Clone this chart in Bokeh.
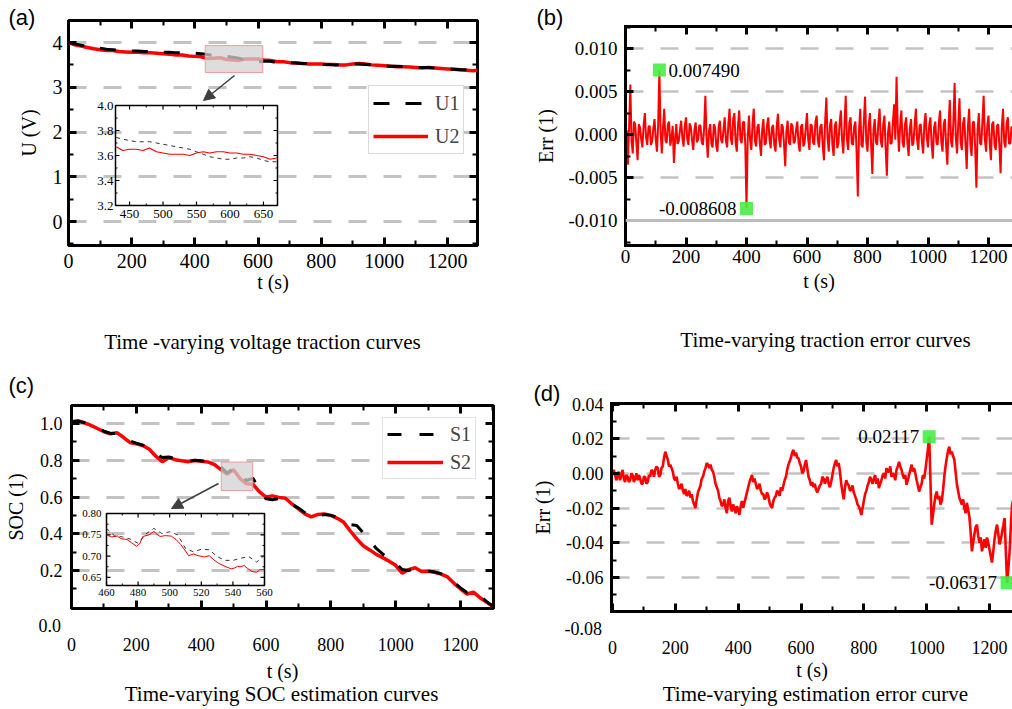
from bokeh.plotting import figure
from bokeh.layouts import column, row
from bokeh.models import (Range1d, LinearAxis, SingleIntervalTicker, FixedTicker,
                          PrintfTickFormatter, Span, Legend, LegendItem, Arrow,
                          NormalHead, Title, Plot)
from bokeh.core.properties import value
from bokeh.embed import file_html
from bokeh.resources import INLINE

SERIF = "Liberation Serif"
SANS = "Liberation Sans"
RED = "#ff0000"
GRID = "#c3c3c3"
GREEN = "#45ee45"

# ------------------------------------------------------------------ data
# (a) voltage traction
t_u = list(range(0, 1301, 20))
u1 = [4.00, 3.97, 3.94, 3.92, 3.89, 3.87, 3.85, 3.84, 3.83, 3.82,
      3.81, 3.81, 3.80, 3.80, 3.79, 3.78, 3.78, 3.77, 3.77, 3.76,
      3.76, 3.75, 3.73, 3.71, 3.71, 3.69, 3.67, 3.65, 3.61, 3.58,
      3.57, 3.58, 3.58, 3.55, 3.56, 3.55, 3.54, 3.53, 3.53, 3.52,
      3.51, 3.51, 3.50, 3.50, 3.51, 3.52, 3.52, 3.51, 3.50, 3.49,
      3.48, 3.47, 3.47, 3.46, 3.45, 3.44, 3.44, 3.44, 3.43, 3.42,
      3.41, 3.40, 3.39, 3.39, 3.38, 3.38]
u2 = [4.00, 3.95, 3.92, 3.89, 3.86, 3.84, 3.82, 3.82, 3.80, 3.79,
      3.78, 3.78, 3.77, 3.77, 3.76, 3.75, 3.74, 3.72, 3.72, 3.70,
      3.69, 3.68, 3.64, 3.65, 3.66, 3.62, 3.61, 3.60, 3.63, 3.63,
      3.63, 3.61, 3.60, 3.57, 3.57, 3.55, 3.54, 3.53, 3.52, 3.52,
      3.52, 3.51, 3.51, 3.50, 3.50, 3.52, 3.53, 3.52, 3.50, 3.49,
      3.48, 3.47, 3.46, 3.46, 3.45, 3.44, 3.43, 3.44, 3.43, 3.42,
      3.41, 3.40, 3.39, 3.38, 3.37, 3.38]
t_u_zoom = list(range(430, 671, 10))
u1_zoom = [3.745, 3.73, 3.72, 3.71, 3.71, 3.71, 3.70, 3.69, 3.68, 3.67,
           3.66, 3.65, 3.63, 3.61, 3.59, 3.58, 3.57, 3.57, 3.58, 3.58,
           3.59, 3.58, 3.56, 3.55, 3.55]
u2_zoom = [3.67, 3.64, 3.65, 3.65, 3.64, 3.66, 3.63, 3.62, 3.61, 3.61,
           3.61, 3.60, 3.62, 3.63, 3.62, 3.63, 3.63, 3.62, 3.62, 3.61,
           3.61, 3.60, 3.59, 3.57, 3.58]
u_zoom_box = [433, 615, 3.33, 3.93]      # left, right, bottom, top
u_inset_x = [429, 671]
u_inset_y = [3.2, 4.0]
u_inset_xticks = [450, 500, 550, 600, 650]
u_inset_xminor = [475, 525, 575, 625]
u_inset_yticks = [3.2, 3.4, 3.6, 3.8, 4.0]
u_inset_yminor = [3.3, 3.5, 3.7, 3.9]

# (b) traction error (one value every 4 s)
t_ev = list(range(0, 1281, 4))
err_v = [-0.0010, 0.0005, -0.0035, 0.0010, 0.0058, -0.0008, -0.0022, 0.0015, 0.0012, -0.0010,
         -0.0030, 0.0012, 0.0008, -0.0006, -0.0015, 0.0011, 0.0025, -0.0004, -0.0012, 0.0009,
         0.0010, -0.0012, -0.0008, 0.0007, 0.0018, -0.0006, -0.0020, 0.0012, 0.00749, 0.0004,
         -0.0022, 0.0008, 0.0030, -0.0007, -0.0010, 0.0012, 0.0015, -0.0013, -0.0005, 0.0010,
         -0.0033, -0.0006, 0.0012, -0.0011, -0.0008, 0.0005, 0.0016, -0.0004, -0.0014, 0.0010,
         0.0020, -0.0005, -0.0012, 0.0013, 0.0009, -0.0007, -0.0018, 0.0006, 0.0014, -0.0009,
         -0.0006, 0.0011, 0.0010, -0.0009, -0.0012, 0.0008, 0.0045, -0.0005, -0.0027, 0.0004,
         0.0012, -0.0011, -0.0015, 0.0012, 0.0008, -0.0013, -0.0020, 0.0009, 0.0016, -0.0006,
         -0.0010, 0.0006, 0.0020, -0.0008, -0.0015, 0.0012, 0.0030, -0.0004, -0.0012, 0.0018,
         0.0025, -0.0009, -0.0020, 0.0011, 0.0028, -0.0006, -0.0010, 0.0014, 0.0015, -0.0012,
         -0.008608, -0.0005, 0.0022, -0.0007, -0.0018, 0.0013, 0.0030, -0.0008, -0.0014, 0.0009,
         0.0012, -0.0010, -0.0025, 0.0006, 0.0018, -0.0012, -0.0010, 0.0011, 0.0020, -0.0006,
         -0.0016, 0.0008, 0.0011, -0.0012, -0.0020, 0.0010, 0.0024, -0.0006, -0.0015, 0.0012,
         0.0009, -0.0011, -0.0037, 0.0004, 0.0016, -0.0009, -0.0012, 0.0013, 0.0010, -0.0010,
         -0.0008, 0.0006, 0.0015, -0.0011, -0.0020, 0.0009, 0.0012, -0.0014, -0.0010, 0.0008,
         0.0025, -0.0006, -0.0018, 0.0012, 0.0010, -0.0009, -0.0012, 0.0015, 0.0022, -0.0008,
         -0.0015, 0.0009, 0.0012, -0.0013, -0.0030, 0.0015, 0.0043, -0.0004, -0.0020, 0.0011,
         0.0018, -0.0012, -0.0025, 0.0010, 0.0015, -0.0016, -0.0010, 0.0014, 0.0028, -0.0007,
         -0.0022, 0.0012, 0.0045, -0.0006, -0.0018, 0.0014, 0.0020, -0.0010, -0.0012, 0.0009,
         0.0015, -0.0020, -0.0072, 0.0005, 0.0030, -0.0012, -0.0015, 0.0016, 0.0044, -0.0008,
         -0.0020, 0.0010, 0.0025, -0.0012, -0.0046, 0.0006, 0.0018, -0.0009, -0.0012, 0.0014,
         0.0030, -0.0008, -0.0015, 0.0012, 0.0022, -0.0016, -0.0048, 0.0003, 0.0015, -0.0011,
         -0.0010, 0.0014, 0.0035, -0.0006, 0.0067, 0.0008, -0.0020, 0.0011, 0.0028, -0.0009,
         -0.0015, 0.0012, 0.0020, -0.0010, -0.0025, 0.0007, 0.0018, -0.0013, -0.0010, 0.0012,
         0.0030, -0.0006, -0.0018, 0.0010, 0.0012, -0.0009, -0.0022, 0.0013, 0.0025, -0.0004,
         -0.0015, 0.0011, 0.0020, -0.0012, -0.0028, 0.0008, 0.0015, -0.0010, -0.0012, 0.0014,
         0.0028, -0.0009, -0.0020, 0.0012, 0.0018, -0.0014, -0.0035, 0.0010, 0.0040, -0.0008,
         -0.0015, 0.0016, 0.0060, -0.0004, -0.0022, 0.0012, 0.0042, -0.0010, -0.0018, 0.0013,
         0.0020, -0.0012, -0.0040, 0.0009, 0.0030, -0.0011, -0.0025, 0.0014, 0.0015, -0.0016,
         -0.0062, 0.0006, 0.0025, -0.0010, -0.0012, 0.0016, 0.0045, -0.0006, -0.0020, 0.0011,
         0.0022, -0.0010, -0.0030, 0.0012, 0.0015, -0.0012, -0.0018, 0.0010, 0.0012, -0.0014,
         -0.0045, 0.0008, 0.0030, -0.0009, -0.0015, 0.0013, 0.0020, -0.0011, -0.0010, 0.0009,
         0.0008]

# (c) SOC estimation
t_soc = list(range(0, 1301, 20))
s1 = [1.010, 1.012, 1.005, 0.992, 0.975, 0.958, 0.946, 0.945, 0.928, 0.905,
      0.893, 0.882, 0.862, 0.835, 0.815, 0.818, 0.808, 0.800, 0.795, 0.800,
      0.797, 0.793, 0.780, 0.765, 0.730, 0.757, 0.716, 0.690, 0.702, 0.640,
      0.590, 0.585, 0.592, 0.590, 0.560, 0.540, 0.515, 0.490, 0.498, 0.505,
      0.500, 0.490, 0.470, 0.450, 0.445, 0.405, 0.365, 0.320, 0.290, 0.262,
      0.240, 0.205, 0.200, 0.212, 0.200, 0.198, 0.192, 0.182, 0.168, 0.135,
      0.105, 0.080, 0.085, 0.060, 0.032, 0.005]
s2 = [1.010, 1.015, 1.003, 0.990, 0.973, 0.955, 0.944, 0.950, 0.925, 0.897,
      0.890, 0.880, 0.860, 0.822, 0.792, 0.814, 0.803, 0.797, 0.792, 0.798,
      0.795, 0.791, 0.777, 0.750, 0.725, 0.748, 0.700, 0.672, 0.669, 0.628,
      0.600, 0.606, 0.598, 0.593, 0.562, 0.535, 0.508, 0.492, 0.505, 0.508,
      0.500, 0.484, 0.462, 0.415, 0.372, 0.335, 0.312, 0.288, 0.270, 0.250,
      0.228, 0.185, 0.205, 0.215, 0.195, 0.196, 0.190, 0.180, 0.165, 0.130,
      0.100, 0.072, 0.082, 0.052, 0.028, 0.004]
t_s1_zoom = list(range(460, 561, 5))
s1_zoom = [0.765, 0.748, 0.745, 0.740, 0.730, 0.752, 0.765, 0.753, 0.757, 0.750,
           0.718, 0.710, 0.716, 0.715, 0.699, 0.690, 0.690, 0.695, 0.699, 0.686,
           0.702]
t_s2_zoom = [460, 463, 467, 469, 473, 476, 479, 481, 483, 487,
             490, 492, 494, 497, 501, 504, 507, 510, 512, 515,
             518, 522, 525, 528, 531, 535, 539, 541, 543, 545,
             547, 549, 552, 555, 557, 560]
s2_zoom = [0.750, 0.745, 0.747, 0.741, 0.739, 0.731, 0.723, 0.729, 0.746, 0.750,
           0.758, 0.751, 0.746, 0.748, 0.747, 0.739, 0.727, 0.712, 0.701, 0.705,
           0.701, 0.698, 0.701, 0.691, 0.683, 0.676, 0.670, 0.672, 0.676, 0.675,
           0.678, 0.672, 0.664, 0.662, 0.668, 0.669]
soc_zoom_box = [462, 559, 0.635, 0.79]   # left, right, bottom, top
s_inset_x = [460, 560]
s_inset_y = [0.631, 0.80]
s_inset_xticks = [460, 480, 500, 520, 540, 560]
s_inset_xminor = [470, 490, 510, 530, 550]
s_inset_yticks = [0.65, 0.70, 0.75, 0.80]
s_inset_yminor = [0.675, 0.725, 0.775]

# (d) SOC estimation error (one value every 4 s)
t_es = list(range(0, 1277, 4))
err_s = [0.000, 0.002, -0.001, -0.004, -0.002, 0.001, -0.004, -0.001, 0.002, -0.003,
         -0.005, -0.001, -0.002, -0.005, -0.004, 0.000, -0.001, -0.005, -0.003, 0.000,
         -0.004, -0.001, -0.003, -0.006, -0.006, -0.002, -0.002, -0.006, -0.005, -0.001,
         -0.002, 0.002, 0.001, -0.002, 0.002, 0.004, 0.003, -0.002, -0.001, 0.003,
         0.004, 0.009, 0.0125, 0.010, 0.008, 0.004, 0.005, 0.003, 0.001, -0.003,
         -0.004, -0.002, -0.006, -0.009, -0.008, -0.006, -0.010, -0.012, -0.009, -0.013,
         -0.012, -0.010, -0.014, -0.012, -0.016, -0.018, -0.020, -0.015, -0.011, -0.009,
         -0.007, -0.003, -0.002, 0.001, 0.003, 0.006, 0.005, 0.003, 0.005, 0.002,
         0.001, -0.002, -0.006, -0.008, -0.010, -0.014, -0.016, -0.019, -0.018, -0.015,
         -0.020, -0.023, -0.016, -0.014, -0.019, -0.022, -0.018, -0.020, -0.023, -0.019,
         -0.021, -0.024, -0.019, -0.016, -0.020, -0.017, -0.014, -0.011, -0.008, -0.005,
         -0.003, -0.001, -0.005, -0.003, -0.006, -0.009, -0.008, -0.006, -0.010, -0.012,
         -0.012, -0.015, -0.014, -0.011, -0.013, -0.017, -0.019, -0.020, -0.016, -0.014,
         -0.013, -0.010, -0.011, -0.013, -0.008, -0.010, -0.007, -0.004, -0.002, 0.002,
         0.005, 0.007, 0.009, 0.012, 0.0135, 0.010, 0.012, 0.009, 0.0087, 0.006,
         0.004, 0.000, 0.001, 0.005, 0.0077, 0.003, -0.002, -0.004, -0.007, -0.005,
         -0.008, -0.006, -0.0095, -0.011, -0.009, -0.007, -0.006, -0.002, -0.003, -0.006,
         -0.004, -0.002, -0.006, -0.008, -0.005, -0.001, 0.003, 0.006, 0.0077, 0.004,
         0.006, 0.001, -0.006, -0.011, -0.015, -0.008, -0.004, -0.006, -0.007, -0.010,
         -0.0095, -0.007, -0.011, -0.013, -0.015, -0.018, -0.019, -0.021, -0.024, -0.020,
         -0.016, -0.012, -0.010, -0.007, -0.005, -0.002, -0.004, -0.006, -0.003, -0.001,
         -0.006, -0.003, -0.0085, -0.006, -0.004, -0.001, 0.000, -0.003, 0.003, 0.001,
         0.001, 0.004, -0.002, 0.000, -0.001, -0.004, 0.002, 0.004, 0.0067, 0.004,
         0.002, -0.001, -0.003, -0.001, -0.0066, -0.004, -0.001, 0.002, 0.005, 0.001,
         0.003, 0.000, -0.004, -0.007, -0.0105, -0.008, -0.006, -0.001, -0.003, 0.002,
         0.008, 0.014, 0.02117, -0.004, -0.0296, -0.024, -0.018, -0.013, -0.0105, -0.015,
         -0.013, -0.018, -0.016, -0.010, -0.002, 0.004, 0.0087, 0.013, 0.0154, 0.011,
         0.0125, 0.010, 0.008, 0.001, -0.006, -0.010, -0.014, -0.016, -0.018, -0.015,
         -0.020, -0.023, -0.017, -0.021, -0.025, -0.034, -0.045, -0.040, -0.035, -0.031,
         -0.0296, -0.036, -0.040, -0.037, -0.045, -0.041, -0.038, -0.043, -0.037, -0.040,
         -0.044, -0.048, -0.0515, -0.045, -0.038, -0.033, -0.0296, -0.035, -0.041, -0.038,
         -0.034, -0.030, -0.0258, -0.045, -0.06317, -0.055, -0.045, -0.030, -0.018, -0.015]

# ------------------------------------------------------------------ page geometry
# Each panel: plot-frame box in page pixels (left, right, top, bottom) and two
# reference points per axis (value, pixel) that fix the scale of that axis.
HAS_FRAME_ALIGN = "frame_align" in Plot.properties()
BOX = {"a": [68, 477, 20, 245], "b": [625, 1012, 26, 245],
       "c": [71, 493, 405, 608], "d": [611, 1012, 403, 611]}
if not HAS_FRAME_ALIGN:        # plots in one row share their top/bottom borders
    for p1, p2 in (("a", "b"), ("c", "d")):
        top = max(BOX[p1][2], BOX[p2][2])
        bot = min(BOX[p1][3], BOX[p2][3])
        for k in (p1, p2):
            BOX[k][2], BOX[k][3] = top, bot
ANCH = {"a": dict(x=((0, 68), (1200, 447)), y=((0, 221), (4, 42))),
        "b": dict(x=((0, 625), (1200, 988)), y=((-0.010, 220), (0.010, 48))),
        "c": dict(x=((0, 71), (1200, 460)), y=((0.2, 570), (1.0, 423))),
        "d": dict(x=((0, 612), (1200, 989)), y=((-0.08, 611.5), (0.04, 403.5)))}


def span(anchor, p0, p1):
    (v0, q0), (v1, q1) = anchor
    k = (v1 - v0) / (q1 - q0)
    return (v0 + (p0 - q0) * k, v0 + (p1 - q0) * k)


def geom(key):
    l, r, t, b = BOX[key]
    return dict(box=(l, r, t, b), xr=span(ANCH[key]["x"], l, r),
                yr=span(ANCH[key]["y"], b, t))


GA, GB, GC, GD = geom("a"), geom("b"), geom("c"), geom("d")


def to_data(g, px, py):
    l, r, t, b = g["box"]
    x = g["xr"][0] + (px - l) * (g["xr"][1] - g["xr"][0]) / (r - l)
    y = g["yr"][0] + (b - py) * (g["yr"][1] - g["yr"][0]) / (b - t)
    return x, y


# ------------------------------------------------------------------ helpers
def make_fig(w, h, g, fig_origin):
    l, r, t, b = g["box"]
    ox, oy = fig_origin
    p = figure(width=w, height=h, x_range=Range1d(*g["xr"]), y_range=Range1d(*g["yr"]),
               output_backend="svg", toolbar_location=None, tools="", title=None,
               min_border_left=l - ox, min_border_right=ox + w - r,
               min_border_top=t - oy, min_border_bottom=oy + h - b)
    if HAS_FRAME_ALIGN:
        p.frame_align = False
    p.background_fill_color = "white"
    p.border_fill_color = "white"
    p.xgrid.visible = False
    p.ygrid.grid_line_color = GRID
    p.ygrid.grid_line_width = 3
    p.ygrid.grid_line_dash = "18 17"
    return p


def tick_style(ax, major_in=8, minor_in=5, tw=3):
    ax.major_tick_in = major_in
    ax.major_tick_out = 0
    ax.minor_tick_in = minor_in
    ax.minor_tick_out = 0
    ax.major_tick_line_width = tw
    ax.minor_tick_line_width = 2
    ax.major_tick_line_color = "black"
    ax.minor_tick_line_color = "black"


def no_ticks(ax):
    ax.major_tick_in = 0
    ax.major_tick_out = 0
    ax.minor_tick_in = 0
    ax.minor_tick_out = 0
    ax.major_tick_line_color = None
    ax.minor_tick_line_color = None
    ax.axis_line_color = None


def labels(ax, size, standoff):
    ax.major_label_text_font = SERIF
    ax.major_label_text_font_size = f"{size}px"
    ax.major_label_text_color = "black"
    ax.major_label_standoff = standoff


def hide_labels(ax):
    ax.major_label_text_color = None
    ax.major_label_text_font_size = "1px"
    ax.major_label_standoff = 0


def axis_title(ax, text, size, standoff):
    ax.axis_label = text
    ax.axis_label_text_font = SERIF
    ax.axis_label_text_font_size = f"{size}px"
    ax.axis_label_text_font_style = "normal"
    ax.axis_label_text_color = "black"
    ax.axis_label_standoff = standoff


def mirror(p, ticker, side):
    ax = LinearAxis(ticker=ticker)
    tick_style(ax)
    hide_labels(ax)
    p.add_layout(ax, side)
    return ax


def caption_axis(g, px_center, text, size, standoff):
    xc = int(round(to_data(g, px_center, 0)[0]))
    ax = LinearAxis(ticker=FixedTicker(ticks=[xc]), major_label_overrides={xc: text})
    no_ticks(ax)
    labels(ax, size, standoff)
    return ax


def letter(g, text, left_px, center_px):
    l, r, t, b = g["box"]
    standoff = int(round(2 * (t - 12 - center_px)))
    return Title(text=text, align="left", offset=left_px - l, vertical_align="bottom",
                 standoff=standoff, text_font=SANS, text_font_size="22px",
                 text_font_style="normal", text_color="black")


def side_text(text, offset, standoff):
    return Title(text=text, align="left", offset=offset, vertical_align="top",
                 standoff=standoff, text_font=SERIF, text_font_size="18px",
                 text_font_style="normal", text_color="black")


def draw_inset(p, g, box_px, xs, ys, xt, xm, yt, ym, xfmt, yfmt, fsize, xoff, yoff):
    l, r, t, b = box_px
    x0, y0 = to_data(g, l, b)
    x1, y1 = to_data(g, r, t)
    sub = p.subplot(x_source=Range1d(*xs), y_source=Range1d(*ys),
                    x_target=Range1d(x0, x1), y_target=Range1d(y0, y1))
    kx = (xs[1] - xs[0]) / (r - l)
    ky = (ys[1] - ys[0]) / (b - t)
    for ticks, ln, lw in ((xt, 4, 1.2), (xm, 2, 1)):
        sub.segment(x0=ticks, y0=[ys[0]] * len(ticks), x1=ticks,
                    y1=[ys[0] + ln * ky] * len(ticks), line_color="black", line_width=lw)
        sub.segment(x0=ticks, y0=[ys[1]] * len(ticks), x1=ticks,
                    y1=[ys[1] - ln * ky] * len(ticks), line_color="black", line_width=lw)
    for ticks, ln, lw in ((yt, 4, 1.2), (ym, 2, 1)):
        sub.segment(x0=[xs[0]] * len(ticks), y0=ticks, x1=[xs[0] + ln * kx] * len(ticks),
                    y1=ticks, line_color="black", line_width=lw)
        sub.segment(x0=[xs[1]] * len(ticks), y0=ticks, x1=[xs[1] - ln * kx] * len(ticks),
                    y1=ticks, line_color="black", line_width=lw)
    sub.quad(left=[xs[0]], right=[xs[1]], bottom=[ys[0]], top=[ys[1]],
             fill_color=None, line_color="black", line_width=1.5)
    sub.text(x=xt, y=[ys[0]] * len(xt), text=[xfmt % v for v in xt], y_offset=yoff,
             text_align="center", text_baseline="top", text_font=value(SERIF),
             text_font_size=f"{fsize}px", text_color="black")
    sub.text(x=[xs[0]] * len(yt), y=yt, text=[yfmt % v for v in yt], x_offset=xoff,
             text_align="right", text_baseline="middle", text_font=value(SERIF),
             text_font_size=f"{fsize}px", text_color="black")
    return sub


def arrow(p, g, start_px, end_px):
    xs_, ys_ = to_data(g, *start_px)
    xe_, ye_ = to_data(g, *end_px)
    p.add_layout(Arrow(end=NormalHead(size=11, fill_color="#404040", line_color="#404040"),
                       x_start=xs_, y_start=ys_, x_end=xe_, y_end=ye_,
                       line_color="#404040", line_width=1.6))


X200 = SingleIntervalTicker(interval=200, num_minor_ticks=2)

# ------------------------------------------------------------------ (a)
pa = make_fig(520, 360, GA, (0, 0))
ya_t = SingleIntervalTicker(interval=1, num_minor_ticks=2)
xa, ya = pa.xaxis[0], pa.yaxis[0]
xa.ticker, ya.ticker = X200, ya_t
xa.formatter = PrintfTickFormatter(format="%d")
ya.formatter = PrintfTickFormatter(format="%d")
for ax in (xa, ya):
    tick_style(ax)
labels(xa, 20, 8)
labels(ya, 20, 6)
axis_title(xa, "t (s)", 20, 0)
axis_title(ya, "U (V)", 20, 10)
mirror(pa, X200, "above")
mirror(pa, ya_t, "right")
for ax in pa.axis:
    ax.axis_line_color = None
pa.outline_line_color = "black"
pa.outline_line_width = 3
pa.add_layout(letter(GA, "(a)", 8, 17), "above")
pa.add_layout(caption_axis(GA, 262, "Time -varying voltage traction curves", 21, 34), "below")

ra2 = pa.line(t_u, u2, line_color=RED, line_width=3.5)
ra1 = pa.line(t_u, u1, line_color="black", line_width=3, line_dash="16 16")
pa.quad(left=[u_zoom_box[0]], right=[u_zoom_box[1]], bottom=[u_zoom_box[2]], top=[u_zoom_box[3]],
        fill_color="#d2d2d2", fill_alpha=0.75, line_color="#f29a9a", line_width=1)
arrow(pa, GA, (234, 75), (203, 100))
la_x, la_y = 368 - GA["box"][0], GA["box"][3] - 154
pa.add_layout(Legend(items=[LegendItem(label=value("U1"), renderers=[ra1]),
                            LegendItem(label=value("U2"), renderers=[ra2])],
                     location=(la_x, la_y), glyph_width=55, glyph_height=26, label_height=26,
                     label_standoff=7, label_text_font=SERIF, label_text_font_size="20px",
                     padding=4, spacing=7, margin=0, border_line_color="#b4b4b4",
                     border_line_width=1.5, background_fill_alpha=1.0))
sa = draw_inset(pa, GA, (115, 277, 105, 205), u_inset_x, u_inset_y, u_inset_xticks,
                u_inset_xminor, u_inset_yticks, u_inset_yminor, "%d", "%.1f", 13, -2, 4)
sa.line(t_u_zoom, u2_zoom, line_color=RED, line_width=1.2)
sa.line(t_u_zoom, u1_zoom, line_color="#333333", line_width=1, line_dash="4 4")

# ------------------------------------------------------------------ (b)
pb = make_fig(492, 360, GB, (520, 0))
yb_t = SingleIntervalTicker(interval=0.005, num_minor_ticks=2)
xb, yb = pb.xaxis[0], pb.yaxis[0]
xb.ticker, yb.ticker = X200, yb_t
xb.formatter = PrintfTickFormatter(format="%d")
yb.formatter = PrintfTickFormatter(format="%.3f")
for ax in (xb, yb):
    tick_style(ax)
labels(xb, 19, 4)
labels(yb, 19, 8)
axis_title(xb, "t (s)", 20, 4)
axis_title(yb, "Err (1)", 20, 8)
mirror(pb, X200, "above")
pb.outline_line_color = None
for ax in pb.axis:
    ax.axis_line_color = "black"
    ax.axis_line_width = 3
    ax.axis_line_cap = "square"
pb.add_layout(letter(GB, "(b)", 536, 17), "above")
pb.add_layout(caption_axis(GB, 825, "Time-varying traction error curves", 21, 33), "below")
pb.ygrid.ticker = FixedTicker(ticks=[-0.005, 0.0, 0.005, 0.010])
pb.ygrid.grid_line_width = 2.5
pb.add_layout(Span(location=-0.010, dimension="width", line_color="#bdbdbd", line_width=3))
pb.line(t_ev, err_v, line_color=RED, line_width=2)
ib_max = max(range(len(err_v)), key=lambda i: err_v[i])
ib_min = min(range(len(err_v)), key=lambda i: err_v[i])
pb.scatter([t_ev[ib_max], t_ev[ib_min]], [err_v[ib_max], err_v[ib_min]], marker="square",
           size=13, fill_color=GREEN, fill_alpha=0.9, line_color=None)
pb.text([t_ev[ib_max]], [err_v[ib_max]], text=[f"{err_v[ib_max]:.6f}"], x_offset=9,
        text_baseline="middle", text_align="left", text_font=value(SERIF),
        text_font_size="19px", text_color="black")
pb.text([t_ev[ib_min]], [err_v[ib_min]], text=[f"{err_v[ib_min]:.6f}"], x_offset=-10,
        text_baseline="middle", text_align="right", text_font=value(SERIF),
        text_font_size="19px", text_color="black")

# ------------------------------------------------------------------ (c)
pc = make_fig(520, 349, GC, (0, 360))
yc_t = FixedTicker(ticks=[0.2, 0.4, 0.6, 0.8, 1.0], minor_ticks=[0.1, 0.3, 0.5, 0.7, 0.9])
xc_ticks, yc = pc.xaxis[0], pc.yaxis[0]
xc_ticks.ticker, yc.ticker = X200, yc_t
yc.formatter = PrintfTickFormatter(format="%.1f")
for ax in (xc_ticks, yc):
    tick_style(ax)
hide_labels(xc_ticks)
labels(yc, 18, 9)
axis_title(yc, "SOC (1)", 20, 10)
mirror(pc, X200, "above")
mirror(pc, yc_t, "right")
xc_lab = LinearAxis(ticker=X200, formatter=PrintfTickFormatter(format="%d"))
no_ticks(xc_lab)
labels(xc_lab, 18, -6)
axis_title(xc_lab, "t (s)", 20, 6)
for ax in (xc_ticks, yc, *pc.above, *pc.right):
    ax.axis_line_color = None
pc.outline_line_color = "black"
pc.outline_line_width = 3
pc.below = [xc_ticks, side_text("0.0", 38 - GC["box"][0], 20), xc_lab,
            caption_axis(GC, 281, "Time-varying SOC estimation curves", 21, -3)]
pc.add_layout(letter(GC, "(c)", 8, 385), "above")

rc2 = pc.line(t_soc, s2, line_color=RED, line_width=3.5)
rc1 = pc.line(t_soc, s1, line_color="black", line_width=3, line_dash="14 18")
pc.quad(left=[soc_zoom_box[0]], right=[soc_zoom_box[1]], bottom=[soc_zoom_box[2]],
        top=[soc_zoom_box[3]], fill_color="#d2d2d2", fill_alpha=0.75, line_color="#f29a9a",
        line_width=1)
arrow(pc, GC, (218, 483), (171, 508))
lc_x, lc_y = 382 - GC["box"][0], GC["box"][3] - 479
pc.add_layout(Legend(items=[LegendItem(label=value("S1"), renderers=[rc1]),
                            LegendItem(label=value("S2"), renderers=[rc2])],
                     location=(lc_x, lc_y), glyph_width=56, glyph_height=24, label_height=24,
                     label_standoff=7, label_text_font=SERIF, label_text_font_size="20px",
                     padding=4, spacing=4, margin=0, border_line_color="#c8c8c8",
                     border_line_width=1.5, background_fill_alpha=1.0))
sc = draw_inset(pc, GC, (106, 264, 513, 585), s_inset_x, s_inset_y, s_inset_xticks,
                s_inset_xminor, s_inset_yticks, s_inset_yminor, "%d", "%.2f", 11, -5, 3)
sc.line(t_s2_zoom, s2_zoom, line_color=RED, line_width=1)
sc.line(t_s1_zoom, s1_zoom, line_color="#333333", line_width=1, line_dash="4 4")

# ------------------------------------------------------------------ (d)
pd_ = make_fig(492, 349, GD, (520, 360))
yd_t = FixedTicker(ticks=[-0.06, -0.04, -0.02, 0.0, 0.02, 0.04],
                   minor_ticks=[-0.07, -0.05, -0.03, -0.01, 0.01, 0.03])
xd_ticks, yd = pd_.xaxis[0], pd_.yaxis[0]
xd_ticks.ticker, yd.ticker = X200, yd_t
yd.formatter = PrintfTickFormatter(format="%.2f")
for ax in (xd_ticks, yd):
    tick_style(ax)
hide_labels(xd_ticks)
labels(yd, 18, 8)
axis_title(yd, "Err (1)", 20, 9)
top_d = mirror(pd_, X200, "above")
xd_lab = LinearAxis(ticker=X200, formatter=PrintfTickFormatter(format="%d"))
no_ticks(xd_lab)
labels(xd_lab, 18, -7)
axis_title(xd_lab, "t (s)", 20, 2)
pd_.outline_line_color = None
for ax in (xd_ticks, yd, top_d):
    ax.axis_line_color = "black"
    ax.axis_line_width = 3
    ax.axis_line_cap = "square"
pd_.below = [xd_ticks, side_text("-0.08", 564 - GD["box"][0], 21), xd_lab,
             caption_axis(GD, 815, "Time-varying estimation error curve", 21, -2)]
pd_.add_layout(letter(GD, "(d)", 533, 393), "above")
pd_.ygrid.ticker = FixedTicker(ticks=[-0.06, -0.04, -0.02, 0.0, 0.02])
pd_.ygrid.grid_line_width = 2.5
pd_.line(t_es, err_s, line_color=RED, line_width=2.6)
id_max = max(range(len(err_s)), key=lambda i: err_s[i])
id_min = min(range(len(err_s)), key=lambda i: err_s[i])
pd_.scatter([t_es[id_max], t_es[id_min]], [err_s[id_max], err_s[id_min]], marker="square",
            size=13, fill_color=GREEN, fill_alpha=0.9, line_color=None)
pd_.text([t_es[id_max], t_es[id_min]], [err_s[id_max], err_s[id_min]],
         text=[f"{err_s[id_max]:.5f}", f"{err_s[id_min]:.5f}"], x_offset=-10,
         text_baseline="middle", text_align="right", text_font=value(SERIF),
         text_font_size="19px", text_color="black")

layout = column(row(pa, pb), row(pc, pd_))

open("out.html", "w").write(file_html(layout, INLINE))
